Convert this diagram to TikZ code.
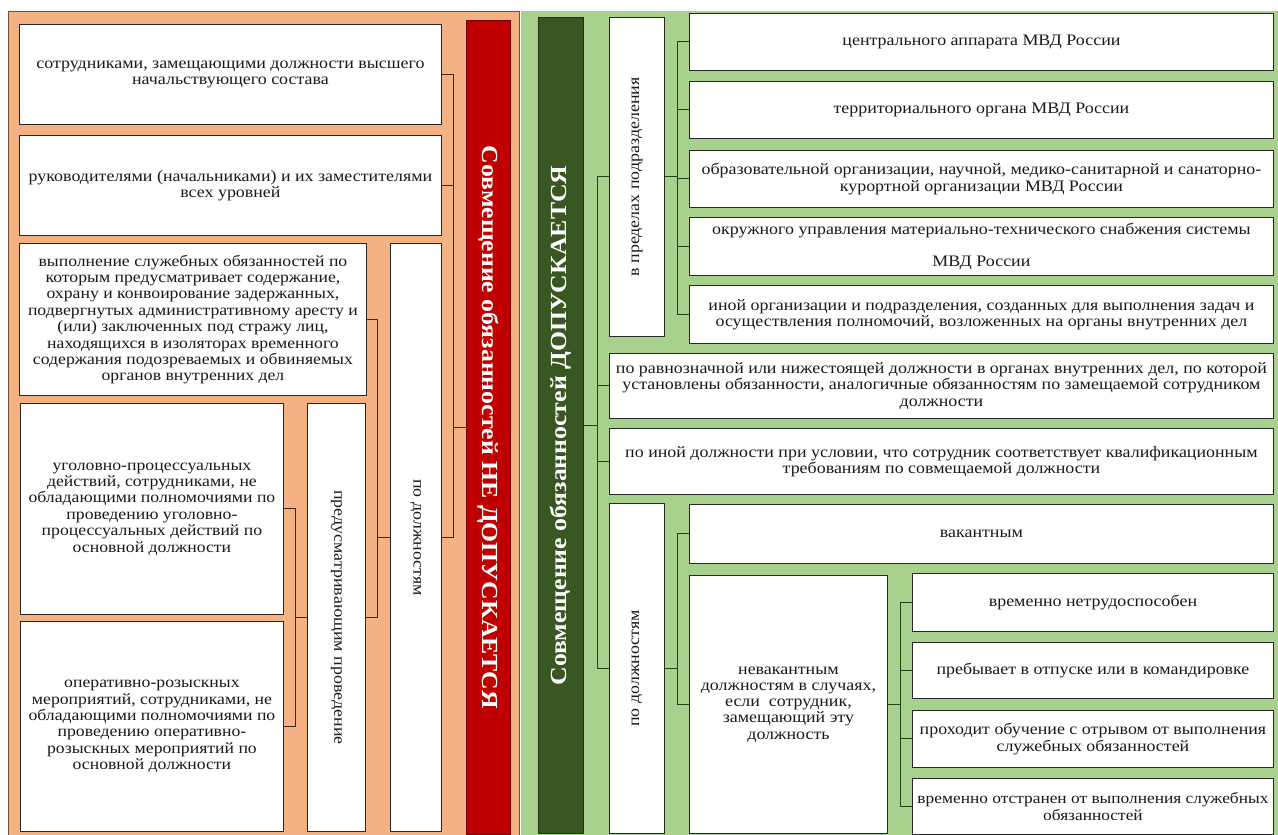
\documentclass[tikz,border=0pt]{standalone}
\usepackage{fontspec}
\setmainfont{Liberation Serif}[FakeStretch=1.12]
\usepackage{graphicx}
\definecolor{orpanel}{RGB}{244,177,131}
\definecolor{grpanel}{RGB}{169,209,142}
\definecolor{barred}{RGB}{192,0,0}
\definecolor{bargreen}{RGB}{56,87,35}
\definecolor{orline}{RGB}{64,38,20}
\definecolor{grline}{RGB}{38,64,24}

\tikzset{
    box/.style={draw=black!85, fill=white, line width=0.9pt, align=center, inner xsep=0.5pt, inner ysep=1pt,
        anchor=north west, text=black!90, font=\fontsize{16}{16.3}\selectfont},
    bigbox/.style={box, font=\fontsize{15.8}{16.4}\selectfont},
    bar/.style={box, text=white, font=\fontsize{23}{26}\selectfont\bfseries},
    obrace/.style={draw=orline, line width=1pt},
    gbrace/.style={draw=grline, line width=1pt},
}

\begin{document}
\begin{tikzpicture}[x=1pt, y=-1pt]
    \useasboundingbox (0,0) rectangle (1278,835);

    % panels
    \fill[orpanel, draw=orline!80, line width=0.6pt] (8,11) rectangle (519,835);
    \fill[grpanel] (521,11) rectangle (1278,835);

    % ---- left part: not allowed ----
    \node[bar, fill=barred, draw=barred!60!black, minimum width=44pt, minimum height=814pt] (ne) at (466,20)
        {\rotatebox{-90}{Совмещение обязанностей НЕ ДОПУСКАЕТСЯ}};

    \node[box, minimum width=422pt, minimum height=100pt] (l1) at (19,24)
        {сотрудниками, замещающими должности высшего\\ начальствующего состава};
    \node[box, minimum width=422pt, minimum height=100pt] (l2) at (19,135)
        {руководителями (начальниками) и их заместителями\\ всех уровней};
    \node[box, minimum width=51pt, minimum height=588pt] (pd1) at (390,243)
        {\rotatebox{-90}{по должностям}};

    \node[bigbox, minimum width=347pt, minimum height=152pt] (l3) at (19,243)
        {выполнение служебных обязанностей по\\ которым предусматривает содержание,\\
         охрану и конвоирование задержанных,\\ подвергнутых административному аресту и\\
         (или) заключенных под стражу лиц,\\ находящихся в изоляторах временного\\
         содержания подозреваемых и обвиняемых\\ органов внутренних дел};
    \node[box, minimum width=58pt, minimum height=428pt] (ps) at (307,403)
        {\rotatebox{-90}{предусматривающим проведение}};

    \node[bigbox, minimum width=263pt, minimum height=211pt] (l4) at (20,403)
        {уголовно-процессуальных\\ действий, сотрудниками, не\\ обладающими полномочиями по\\
         проведению уголовно-\\ процессуальных действий по\\ основной должности};
    \node[bigbox, minimum width=263pt, minimum height=210pt] (l5) at (20,621)
        {оперативно-розыскных\\ мероприятий, сотрудниками, не\\ обладающими полномочиями по\\
         проведению оперативно-\\ розыскных мероприятий по\\ основной должности};

    % brackets
    \coordinate (ob1) at (453,0);
    \coordinate (ob2) at (377,0);
    \coordinate (ob3) at (295,0);
    \draw[obrace] (l1.east) -- (l1.east -| ob1) |- (pd1.east);
    \draw[obrace] (l2.east) -- (l2.east -| ob1);
    \draw[obrace] (ne.west) -- (ne.west -| ob1);
    \draw[obrace] (l3.east) -- (l3.east -| ob2) |- (ps.east);
    \draw[obrace] (pd1.west) -- (pd1.west -| ob2);
    \draw[obrace] (l4.east) -- (l4.east -| ob3) |- (l5.east);
    \draw[obrace] (ps.west) -- (ps.west -| ob3);

    % ---- right part: allowed ----
    \node[bar, fill=bargreen, draw=bargreen!60!black, minimum width=45pt, minimum height=816pt] (da) at (538,17)
        {\rotatebox{90}{Совмещение обязанностей ДОПУСКАЕТСЯ}};

    \node[box, minimum width=55pt, minimum height=319pt] (vp) at (609,17)
        {\rotatebox{90}{в пределах подразделения}};
    \node[box, minimum width=584pt, minimum height=57pt] (r1) at (689,13)
        {центрального аппарата МВД России};
    \node[box, minimum width=584pt, minimum height=57pt] (r2) at (689,81)
        {территориального органа МВД России};
    \node[box, minimum width=584pt, minimum height=57pt] (r3) at (689,150)
        {образовательной организации, научной, медико-санитарной и санаторно-\\ курортной организации МВД России};
    \node[box, minimum width=584pt, minimum height=58pt] (r4) at (689,217)
        {окружного управления материально-технического снабжения системы\\[16pt] МВД России};
    \node[box, minimum width=584pt, minimum height=58pt] (r5) at (689,285)
        {иной организации и подразделения, созданных для выполнения задач и\\ осуществления полномочий, возложенных на органы внутренних дел};

    \node[box, minimum width=664pt, minimum height=65pt] (g1) at (609,353)
        {по равнозначной или нижестоящей должности в органах внутренних дел, по которой\\
         установлены обязанности, аналогичные обязанностям по замещаемой сотрудником\\ должности};
    \node[box, minimum width=664pt, minimum height=66pt] (g2) at (609,428)
        {по иной должности при условии, что сотрудник соответствует квалификационным\\
         требованиям по совмещаемой должности};

    \node[box, minimum width=55pt, minimum height=330pt] (pd2) at (609,503)
        {\rotatebox{90}{по должностям}};
    \node[box, minimum width=584pt, minimum height=59pt] (vk) at (689,504) {вакантным};
    \node[box, minimum width=198pt, minimum height=258pt] (nv) at (689,575)
        {невакантным\\ должностям в случаях,\\ если\ \ сотрудник,\\ замещающий эту\\ должность};

    \node[box, minimum width=361pt, minimum height=58pt] (b1) at (912,573) {временно нетрудоспособен};
    \node[box, minimum width=361pt, minimum height=56pt] (b2) at (912,642) {пребывает в отпуске или в командировке};
    \node[box, minimum width=361pt, minimum height=57pt] (b3) at (912,710)
        {проходит обучение с отрывом от выполнения\\ служебных обязанностей};
    \node[box, minimum width=361pt, minimum height=56pt, font=\fontsize{15.5}{16.3}\selectfont] (b4) at (912,778)
        {временно отстранен от выполнения служебных\\ обязанностей};

    % brackets
    \coordinate (gb1) at (597,0);
    \coordinate (gb2) at (677,0);
    \coordinate (gb3) at (900,0);
    \draw[gbrace] (vp.west) -- (vp.west -| gb1) |- (pd2.west);
    \foreach \n in {g1,g2} \draw[gbrace] (\n.west) -- (\n.west -| gb1);
    \draw[gbrace] (da.east) -- (da.east -| gb1);

    \draw[gbrace] (r1.west) -- (r1.west -| gb2) |- (r5.west);
    \foreach \n in {r2,r3,r4} \draw[gbrace] (\n.west) -- (\n.west -| gb2);
    \draw[gbrace] (vp.east) -- (vp.east -| gb2);

    \draw[gbrace] (vk.west) -- (vk.west -| gb2) |- (nv.west);
    \draw[gbrace] (pd2.east) -- (pd2.east -| gb2);

    \draw[gbrace] (b1.west) -- (b1.west -| gb3) |- (b4.west);
    \foreach \n in {b2,b3} \draw[gbrace] (\n.west) -- (\n.west -| gb3);
    \draw[gbrace] (nv.east) -- (nv.east -| gb3);
\end{tikzpicture}
\end{document}
